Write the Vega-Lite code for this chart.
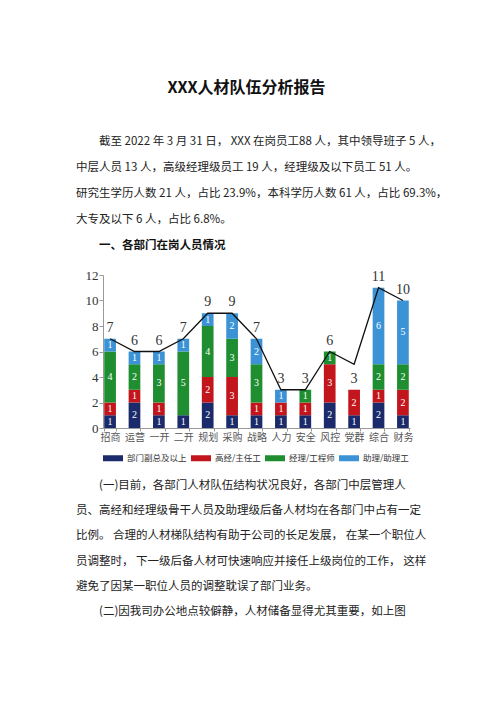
{
  "$schema": "https://vega.github.io/schema/vega-lite/v6.json",
  "background": "white",
  "padding": {"left": 76, "top": 80, "right": 10, "bottom": 10},
  "spacing": 10,
  "resolve": {"legend": {"color": "independent"}},
  "config": {
    "view": {"stroke": null},
    "font": "Noto Sans CJK SC",
    "axisY": {
      "title": null,
      "grid": false,
      "labelOverlap": false,
      "labelFont": "Liberation Serif",
      "labelFontSize": 13,
      "labelColor": "#333",
      "domainColor": "#999",
      "tickColor": "#999",
      "tickSize": 4,
      "labelPadding": 1
    }
  },
  "datasets": {
    "intro": [
      {"line": 0, "role": "first", "text": "截至 2022 年 3 月 31 日， XXX 在岗员工88 人，其中领导班子 5 人，"},
      {"line": 1, "role": "body", "text": "中层人员 13 人，高级经理级员工 19 人，经理级及以下员工 51 人。"},
      {"line": 2, "role": "body", "text": "研究生学历人数 21 人，占比 23.9%，本科学历人数 61 人，占比 69.3%，"},
      {"line": 3, "role": "body", "text": "大专及以下 6 人，占比 6.8%。"},
      {"line": 4, "role": "heading", "text": "一、各部门在岗人员情况"}
    ],
    "outro": [
      {"line": 0, "role": "first", "text": "(一)目前，各部门人材队伍结构状况良好，各部门中层管理人"},
      {"line": 1, "role": "body", "text": "员、高经和经理级骨干人员及助理级后备人材均在各部门中占有一定"},
      {"line": 2, "role": "body", "text": "比例。 合理的人材梯队结构有助于公司的长足发展， 在某一个职位人"},
      {"line": 3, "role": "body", "text": "员调整时， 下一级后备人材可快速响应并接任上级岗位的工作， 这样"},
      {"line": 4, "role": "body", "text": "避免了因某一职位人员的调整耽误了部门业务。"},
      {"line": 5, "role": "first", "text": "(二)因我司办公地点较僻静，人材储备显得尤其重要，如上图"}
    ],
    "staff": [
      {"dept": "招商", "level": "部门副总及以上", "rank": 1, "n": 1},
      {"dept": "招商", "level": "高经/主任工", "rank": 2, "n": 1},
      {"dept": "招商", "level": "经理/工程师", "rank": 3, "n": 4},
      {"dept": "招商", "level": "助理/助理工", "rank": 4, "n": 1},
      {"dept": "运营", "level": "部门副总及以上", "rank": 1, "n": 2},
      {"dept": "运营", "level": "高经/主任工", "rank": 2, "n": 1},
      {"dept": "运营", "level": "经理/工程师", "rank": 3, "n": 2},
      {"dept": "运营", "level": "助理/助理工", "rank": 4, "n": 1},
      {"dept": "一开", "level": "部门副总及以上", "rank": 1, "n": 1},
      {"dept": "一开", "level": "高经/主任工", "rank": 2, "n": 1},
      {"dept": "一开", "level": "经理/工程师", "rank": 3, "n": 3},
      {"dept": "一开", "level": "助理/助理工", "rank": 4, "n": 1},
      {"dept": "二开", "level": "部门副总及以上", "rank": 1, "n": 1},
      {"dept": "二开", "level": "经理/工程师", "rank": 3, "n": 5},
      {"dept": "二开", "level": "助理/助理工", "rank": 4, "n": 1},
      {"dept": "规划", "level": "部门副总及以上", "rank": 1, "n": 2},
      {"dept": "规划", "level": "高经/主任工", "rank": 2, "n": 2},
      {"dept": "规划", "level": "经理/工程师", "rank": 3, "n": 4},
      {"dept": "规划", "level": "助理/助理工", "rank": 4, "n": 1},
      {"dept": "采购", "level": "部门副总及以上", "rank": 1, "n": 1},
      {"dept": "采购", "level": "高经/主任工", "rank": 2, "n": 3},
      {"dept": "采购", "level": "经理/工程师", "rank": 3, "n": 3},
      {"dept": "采购", "level": "助理/助理工", "rank": 4, "n": 2},
      {"dept": "战略", "level": "部门副总及以上", "rank": 1, "n": 1},
      {"dept": "战略", "level": "高经/主任工", "rank": 2, "n": 1},
      {"dept": "战略", "level": "经理/工程师", "rank": 3, "n": 3},
      {"dept": "战略", "level": "助理/助理工", "rank": 4, "n": 2},
      {"dept": "人力", "level": "部门副总及以上", "rank": 1, "n": 1},
      {"dept": "人力", "level": "高经/主任工", "rank": 2, "n": 1},
      {"dept": "人力", "level": "助理/助理工", "rank": 4, "n": 1},
      {"dept": "安全", "level": "部门副总及以上", "rank": 1, "n": 1},
      {"dept": "安全", "level": "高经/主任工", "rank": 2, "n": 1},
      {"dept": "安全", "level": "经理/工程师", "rank": 3, "n": 1},
      {"dept": "风控", "level": "部门副总及以上", "rank": 1, "n": 2},
      {"dept": "风控", "level": "高经/主任工", "rank": 2, "n": 3},
      {"dept": "风控", "level": "经理/工程师", "rank": 3, "n": 1},
      {"dept": "党群", "level": "部门副总及以上", "rank": 1, "n": 1},
      {"dept": "党群", "level": "高经/主任工", "rank": 2, "n": 2},
      {"dept": "综合", "level": "部门副总及以上", "rank": 1, "n": 2},
      {"dept": "综合", "level": "高经/主任工", "rank": 2, "n": 1},
      {"dept": "综合", "level": "经理/工程师", "rank": 3, "n": 2},
      {"dept": "综合", "level": "助理/助理工", "rank": 4, "n": 6},
      {"dept": "财务", "level": "部门副总及以上", "rank": 1, "n": 1},
      {"dept": "财务", "level": "高经/主任工", "rank": 2, "n": 2},
      {"dept": "财务", "level": "经理/工程师", "rank": 3, "n": 2},
      {"dept": "财务", "level": "助理/助理工", "rank": 4, "n": 5}
    ],
    "trend": [
      {"dept": "招商", "value": 7},
      {"dept": "运营", "value": 6},
      {"dept": "一开", "value": 6},
      {"dept": "二开", "value": 7},
      {"dept": "规划", "value": 9},
      {"dept": "采购", "value": 9},
      {"dept": "战略", "value": 7},
      {"dept": "人力", "value": 3},
      {"dept": "安全", "value": 3},
      {"dept": "风控", "value": 6},
      {"dept": "党群", "value": 5},
      {"dept": "综合", "value": 11},
      {"dept": "财务", "value": 10}
    ]
  },
  "vconcat": [
    {
      "width": 307,
      "height": 130,
      "title": {
        "text": "XXX人材队伍分析报告",
        "font": "Noto Sans CJK SC",
        "fontSize": 16,
        "fontWeight": "bold",
        "color": "#111",
        "anchor": "middle",
        "dx": -10,
        "offset": 33
      },
      "data": {"name": "intro"},
      "encoding": {
        "y": {"field": "line", "type": "ordinal", "axis": null},
        "x": {"value": 0},
        "text": {"field": "text"}
      },
      "layer": [
        {
          "transform": [{"filter": "datum.role == 'body'"}],
          "mark": {"type": "text", "align": "left", "baseline": "middle", "dx": -27, "fontSize": 11.5, "color": "#222"}
        },
        {
          "transform": [{"filter": "datum.role == 'first'"}],
          "mark": {"type": "text", "align": "left", "baseline": "middle", "dx": -4, "fontSize": 11.5, "color": "#222"}
        },
        {
          "transform": [{"filter": "datum.role == 'heading'"}],
          "mark": {"type": "text", "align": "left", "baseline": "middle", "dx": -4, "fontSize": 11.5, "fontWeight": "bold", "color": "#111"}
        }
      ]
    },
    {
      "width": 307,
      "height": 153,
      "data": {"name": "staff"},
      "encoding": {
        "x": {
          "field": "dept",
          "type": "nominal",
          "scale": {
            "domain": ["招商", "运营", "一开", "二开", "规划", "采购", "战略", "人力", "安全", "风控", "党群", "综合", "财务"],
            "paddingInner": 0.52,
            "paddingOuter": 0.05
          },
          "axis": {
            "title": null,
            "labelAngle": 0,
            "labelFont": "Noto Sans CJK SC",
            "labelFontSize": 10,
            "labelColor": "#555",
            "domainColor": "#999",
            "tickColor": "#999",
            "tickSize": 3,
            "tickBand": "extent",
            "labelPadding": 1
          }
        }
      },
      "layer": [
        {
          "mark": {"type": "bar"},
          "encoding": {
            "y": {
              "field": "n",
              "type": "quantitative",
              "stack": "zero",
              "scale": {"domain": [0, 12], "nice": false},
              "axis": {"values": [0, 2, 4, 6, 8, 10, 12]}
            },
            "color": {
              "field": "level",
              "type": "nominal",
              "scale": {
                "domain": ["部门副总及以上", "高经/主任工", "经理/工程师", "助理/助理工"],
                "range": ["#1B2A6B", "#C3161C", "#1E8E30", "#3B93D6"]
              },
              "legend": {
                "title": null,
                "orient": "bottom",
                "direction": "horizontal",
                "symbolType": "M-1,-0.3H1V0.3H-1Z",
                "symbolSize": 400,
                "symbolStrokeWidth": 0,
                "labelFont": "Noto Sans CJK SC",
                "labelFontSize": 8.5,
                "labelColor": "#333",
                "columnPadding": 4,
                "offset": 6
              }
            },
            "order": {"field": "rank", "type": "quantitative"}
          }
        },
        {
          "mark": {"type": "text", "color": "white", "font": "Liberation Serif", "fontSize": 10, "baseline": "middle"},
          "encoding": {
            "y": {"field": "n", "type": "quantitative", "stack": "zero", "bandPosition": 0.5, "axis": {"values": [0, 2, 4, 6, 8, 10, 12]}},
            "detail": {"field": "level"},
            "order": {"field": "rank", "type": "quantitative"},
            "text": {"field": "n", "type": "quantitative"}
          }
        },
        {
          "data": {"name": "trend"},
          "mark": {"type": "line", "color": "#111", "strokeWidth": 1.3},
          "encoding": {
            "y": {"field": "value", "type": "quantitative", "axis": {"values": [0, 2, 4, 6, 8, 10, 12]}}
          }
        },
        {
          "transform": [{"aggregate": [{"op": "sum", "field": "n", "as": "total"}], "groupby": ["dept"]}],
          "mark": {"type": "text", "dy": -11, "font": "Liberation Serif", "fontSize": 14, "color": "#333", "baseline": "middle"},
          "encoding": {
            "y": {"field": "total", "type": "quantitative", "axis": {"values": [0, 2, 4, 6, 8, 10, 12]}},
            "text": {"field": "total", "type": "quantitative"}
          }
        }
      ]
    },
    {
      "width": 307,
      "height": 152,
      "data": {"name": "outro"},
      "encoding": {
        "y": {"field": "line", "type": "ordinal", "axis": null},
        "x": {"value": 0},
        "text": {"field": "text"}
      },
      "layer": [
        {
          "transform": [{"filter": "datum.role == 'body'"}],
          "mark": {"type": "text", "align": "left", "baseline": "middle", "dx": -27, "fontSize": 11.5, "color": "#222"}
        },
        {
          "transform": [{"filter": "datum.role == 'first'"}],
          "mark": {"type": "text", "align": "left", "baseline": "middle", "dx": -4, "fontSize": 11.5, "color": "#222"}
        }
      ]
    }
  ]
}
